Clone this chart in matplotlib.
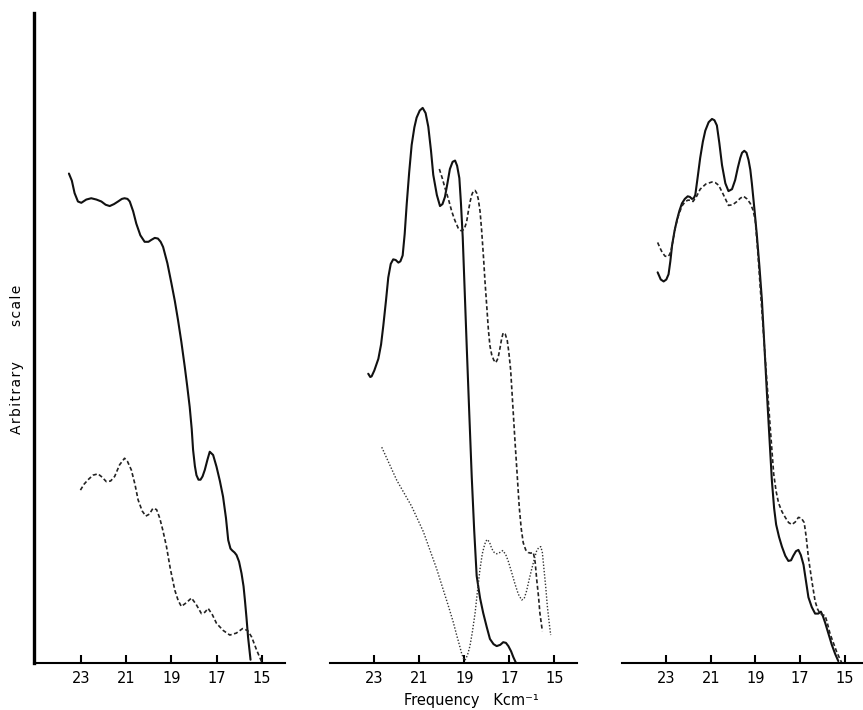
import matplotlib.pyplot as plt
import numpy as np

# frequency ticks (Kcm-1), shared by the three panels
ticks = [23, 21, 19, 17, 15]
tick_labels = ['23', '21', '19', '17', '15']

# ---- left panel ----
p1_solid_f = [23.55, 23.42, 23.30, 23.15, 23.0, 22.78, 22.56, 22.33, 22.11, 21.92, 21.74, 21.55,
              21.37, 21.2, 21.08, 20.95, 20.85, 20.7, 20.56, 20.38, 20.19, 20.02, 19.89, 19.74,
              19.6, 19.48, 19.37, 19.18, 19.0, 18.85, 18.71, 18.56, 18.41, 18.30, 18.19, 18.10,
              18.04, 17.96, 17.89, 17.80, 17.71, 17.62, 17.52, 17.40, 17.30, 17.15, 17.0, 16.85,
              16.71, 16.58, 16.48, 16.38, 16.30, 16.20, 16.11, 16.0, 15.89, 15.80, 15.74, 15.67,
              15.60, 15.49]
p1_solid_v = [75.3, 74.2, 72.3, 71.0, 70.8, 71.3, 71.5, 71.3, 71.0, 70.5, 70.3, 70.6,
              71.0, 71.4, 71.5, 71.4, 71.0, 69.5, 67.6, 65.8, 64.8, 64.8, 65.1, 65.4,
              65.3, 64.8, 64.0, 61.5, 58.4, 55.7, 52.8, 49.4, 45.6, 42.6, 39.4, 36.0,
              32.8, 30.3, 28.9, 28.2, 28.2, 28.7, 29.7, 31.3, 32.5, 32.0, 30.2, 28.0,
              25.6, 22.3, 18.9, 17.6, 17.3, 17.0, 16.6, 15.6, 13.8, 11.8, 9.7, 7.0,
              4.0, 0.5]

p1_dash_f = [23.04, 22.88, 22.7, 22.48, 22.26, 22.08, 21.89, 21.7, 21.52, 21.3, 21.08, 20.95,
             20.78, 20.62, 20.48, 20.30, 20.14, 19.98, 19.82, 19.66, 19.52, 19.38, 19.22, 19.05,
             18.85, 18.70, 18.56, 18.33, 18.11, 17.90, 17.67, 17.52, 17.37, 17.18, 17.0, 16.7,
             16.41, 16.12, 15.84, 15.62, 15.44, 15.22, 15.0]
p1_dash_v = [26.6, 27.5, 28.2, 28.9, 29.1, 28.6, 27.9, 28.0, 28.7, 30.5, 31.5, 31.0,
             29.7, 27.5, 25.1, 23.4, 22.6, 22.9, 23.8, 23.6, 22.3, 20.4, 17.9, 14.5,
             11.2, 9.6, 8.7, 9.3, 10.0, 9.0, 7.6, 7.8, 8.4, 7.4, 6.1, 5.0,
             4.3, 4.6, 5.3, 5.0, 4.0, 2.0, 0.2]

# ---- middle panel ----
p2_solid_f = [23.27, 23.18, 23.12, 23.0, 22.82, 22.7, 22.6, 22.48, 22.38, 22.27, 22.16, 22.05,
              21.93, 21.84, 21.74, 21.65, 21.56, 21.45, 21.34, 21.22, 21.12, 20.98, 20.85, 20.72,
              20.6, 20.48, 20.38, 20.22, 20.08, 19.97, 19.86, 19.75, 19.64, 19.52, 19.41, 19.32,
              19.22, 19.15, 19.07, 18.98, 18.89, 18.78, 18.67, 18.56, 18.45, 18.30, 18.16, 18.0,
              17.86, 17.70, 17.56, 17.40, 17.27, 17.15, 17.04, 16.92, 16.82, 16.70]
p2_solid_v = [44.5, 44.0, 44.1, 45.0, 46.8, 49.0, 51.9, 55.8, 59.3, 61.4, 62.1, 62.0,
              61.6, 61.8, 62.7, 66.0, 70.6, 75.5, 79.7, 82.4, 83.9, 85.0, 85.4, 84.6,
              82.5, 78.8, 75.1, 72.0, 70.3, 70.6, 71.7, 73.8, 76.0, 77.1, 77.3, 76.5,
              74.6, 70.8, 65.5, 57.0, 48.5, 38.5, 28.7, 20.4, 13.4, 10.0, 7.7, 5.5,
              3.7, 2.9, 2.6, 2.8, 3.2, 3.1, 2.6, 1.8, 0.9, 0.0]

p2_dash_f = [20.11, 19.98, 19.86, 19.70, 19.56, 19.42, 19.27, 19.14, 19.01, 18.90, 18.82, 18.74,
             18.67, 18.60, 18.52, 18.45, 18.38, 18.30, 18.23, 18.15, 18.08, 18.0, 17.93, 17.86,
             17.78, 17.69, 17.6, 17.50, 17.41, 17.34, 17.27, 17.18, 17.09, 17.02, 16.94, 16.85,
             16.75, 16.65, 16.56, 16.47, 16.38, 16.27, 16.16, 16.05, 15.93, 15.85, 15.78, 15.70,
             15.64, 15.53]
p2_dash_v = [76.0, 74.6, 73.1, 71.3, 69.5, 68.1, 66.9, 66.5, 66.7, 67.8, 69.5, 71.0,
             72.0, 72.6, 72.7, 72.3, 71.4, 69.5, 66.6, 62.6, 58.7, 54.8, 51.3, 48.8,
             47.4, 46.6, 46.2, 46.9, 48.5, 49.9, 50.8, 50.6, 49.6, 47.8, 45.1, 40.0,
             34.3, 29.0, 24.1, 20.7, 18.5, 17.4, 17.0, 16.9, 17.0, 15.5, 12.8, 10.2,
             7.7, 4.9]

p2_dot_f = [22.67, 22.0, 21.34, 20.82, 20.23, 19.71, 19.50, 19.34, 19.22, 19.12, 19.04, 18.97,
            18.86, 18.75, 18.64, 18.52, 18.41, 18.30, 18.20, 18.12, 18.05, 17.98, 17.88, 17.78,
            17.67, 17.56, 17.42, 17.29, 17.16, 17.04, 16.90, 16.75, 16.60, 16.45, 16.34, 16.23,
            16.12, 16.0, 15.88, 15.78, 15.68, 15.6, 15.53, 15.46, 15.38, 15.31, 15.23, 15.16]
p2_dot_v = [33.2, 28.1, 24.1, 20.2, 14.5, 8.8, 6.4, 4.3, 2.8, 1.5, 0.7, 0.4,
            1.2, 2.6, 4.8, 7.7, 11.2, 14.5, 16.8, 17.9, 18.7, 19.0, 18.6, 17.6,
            17.0, 16.8, 17.0, 17.3, 16.7, 15.6, 14.0, 12.2, 10.6, 9.7, 9.9, 11.1,
            12.8, 14.5, 16.1, 17.3, 17.8, 17.9, 17.0, 14.5, 11.7, 8.8, 6.3, 4.3]

# ---- right panel ----
p3_solid_f = [23.39, 23.25, 23.12, 23.0, 22.9, 22.82, 22.74, 22.63, 22.52, 22.41, 22.30, 22.17,
              22.04, 21.94, 21.85, 21.77, 21.70, 21.59, 21.48, 21.36, 21.25, 21.10, 20.95, 20.84,
              20.73, 20.62, 20.50, 20.35, 20.21, 20.05, 19.91, 19.79, 19.68, 19.60, 19.5, 19.40,
              19.31, 19.23, 19.16, 19.05, 18.94, 18.82, 18.71, 18.60, 18.49, 18.37, 18.26, 18.16,
              18.07, 17.94, 17.81, 17.66, 17.52, 17.40, 17.30, 17.18, 17.07, 16.96, 16.84, 16.73,
              16.62, 16.47, 16.32, 16.18, 16.06, 15.97, 15.87, 15.72, 15.57, 15.42, 15.28]
p3_solid_v = [60.1, 59.0, 58.7, 59.0, 59.8, 61.8, 64.3, 66.5, 68.2, 69.6, 70.7, 71.4,
              71.8, 71.7, 71.4, 71.5, 72.0, 74.8, 77.7, 80.2, 81.9, 83.2, 83.7, 83.5,
              82.7, 80.0, 76.6, 73.8, 72.6, 72.9, 74.3, 76.2, 77.7, 78.5, 78.8, 78.5,
              77.4, 75.9, 73.8, 70.0, 66.0, 61.0, 55.9, 49.0, 41.9, 34.6, 28.0, 23.8,
              21.3, 19.4, 17.9, 16.5, 15.7, 15.8, 16.5, 17.2, 17.4, 16.6, 15.1, 12.6,
              10.1, 8.6, 7.6, 7.6, 7.9, 7.2, 6.2, 4.5, 2.8, 1.4, 0.3]

p3_dash_f = [23.39, 23.29, 23.19, 23.06, 22.94, 22.86, 22.79, 22.7, 22.6, 22.45, 22.3, 22.17,
             22.04, 21.92, 21.8, 21.64, 21.48, 21.22, 20.95, 20.80, 20.65, 20.43, 20.21, 20.02,
             19.83, 19.68, 19.53, 19.38, 19.23, 19.11, 19.01, 18.90, 18.78, 18.63, 18.48, 18.33,
             18.18, 18.07, 17.96, 17.81, 17.66, 17.51, 17.36, 17.21, 17.07, 16.94, 16.81, 16.72,
             16.62, 16.47, 16.32, 16.21, 16.10, 15.98, 15.87, 15.76, 15.65, 15.50, 15.35, 15.23,
             15.12]
p3_dash_v = [64.7, 63.9, 63.2, 62.6, 62.5, 62.8, 63.4, 65.0, 67.0, 68.9, 70.3, 70.9,
             71.2, 71.2, 71.0, 71.8, 72.9, 73.7, 74.0, 73.9, 73.5, 72.0, 70.4, 70.5,
             71.0, 71.5, 71.8, 71.4, 70.7, 69.7, 68.2, 63.5, 57.6, 50.3, 43.1, 36.0,
             29.1, 26.4, 24.6, 23.3, 22.4, 21.6, 21.3, 21.7, 22.4, 22.3, 21.6, 19.4,
             16.2, 12.7, 9.5, 8.3, 7.6, 7.4, 7.3, 6.0, 4.5, 3.1, 1.7, 0.8,
             0.0]

W, H = 863, 710
fig = plt.figure(figsize=(W / 100, H / 100), dpi=100)

# axes boxes in pixels: left edge, right edge (baseline at y=663, top at y=13)
boxes = [(34, 285, (25.1, 13.96)), (330, 577, (24.97, 13.99)), (622, 863, (24.99, 14.17))]
axes = []
for i, (x0, x1, lim) in enumerate(boxes):
    ax = fig.add_axes([x0 / W, (H - 663) / H, (x1 - x0) / W, 650 / H])
    ax.set_xlim(*lim)
    ax.set_ylim(0, 100)
    for s in ['top', 'right']:
        ax.spines[s].set_visible(False)
    ax.spines['bottom'].set_linewidth(1.5)
    if i == 0:
        ax.spines['left'].set_linewidth(2.4)
    else:
        ax.spines['left'].set_visible(False)
    ax.set_yticks([])
    ax.set_xticks(ticks)
    ax.set_xticklabels(tick_labels, fontsize=10.5)
    ax.tick_params(axis='x', direction='in', length=5.5, width=1.5, pad=6)
    axes.append(ax)

ax1, ax2, ax3 = axes
solid = dict(color='#111111', lw=1.5, solid_capstyle='round', solid_joinstyle='round')
dashed = dict(color='#222222', lw=1.2, linestyle=(0, (2.4, 1.5)))
dotted = dict(color='#333333', lw=1.0, linestyle=(0, (1.0, 1.3)))

ax1.plot(p1_solid_f, p1_solid_v, **solid)
ax1.plot(p1_dash_f, p1_dash_v, **dashed)

ax2.plot(p2_solid_f, p2_solid_v, **solid)
ax2.plot(p2_dash_f, p2_dash_v, **dashed)
ax2.plot(p2_dot_f, p2_dot_v, **dotted)

ax3.plot(p3_solid_f, p3_solid_v, **solid)
ax3.plot(p3_dash_f, p3_dash_v, **dashed)

fig.text(471 / W, 1 - 701 / H, 'Frequency   Kcm⁻¹', ha='center', va='center', fontsize=10.5)

# letter-spaced vertical label, drawn as two words
hs = '\u200a'
fig.text(17 / W, 1 - 398 / H, hs.join('Arbitrary'), rotation=90, ha='center', va='center',
         fontsize=10)
fig.text(17 / W, 1 - 305 / H, hs.join('scale'), rotation=90, ha='center', va='center',
         fontsize=10)

fig.savefig('out.png', dpi=100)
